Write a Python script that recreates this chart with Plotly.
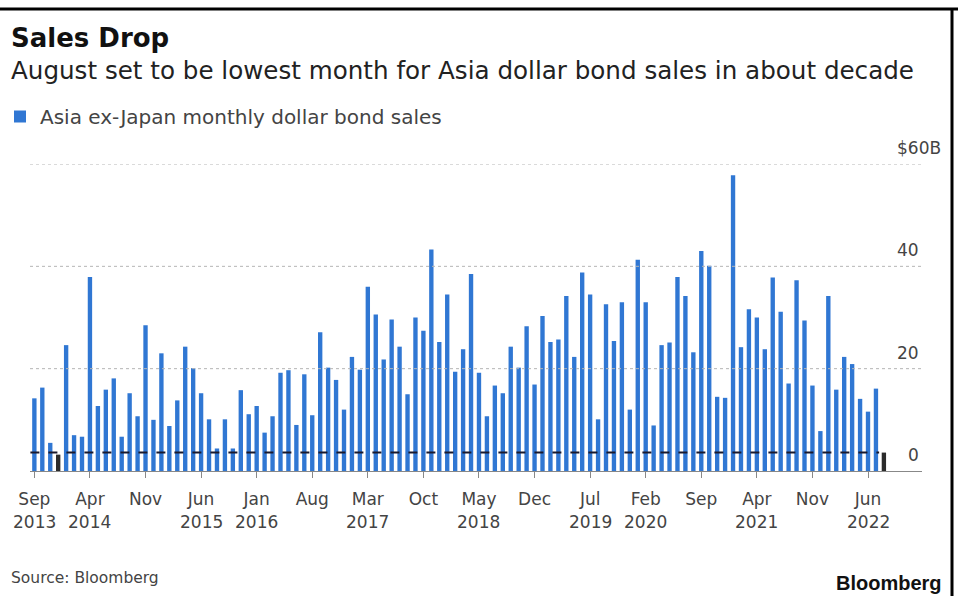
import pandas as pd
import plotly.graph_objects as go

# Monthly Asia ex-Japan dollar bond sales, $ billions (Sep 2013 - Aug 2022)
start_month = "2013-09-01"
sales = [
    14.2, 16.3, 5.5, 3.2, 24.6, 7.0, 6.7, 37.9, 12.7, 15.9, 18.1, 6.7,
    15.2, 10.7, 28.5, 10.0, 23.0, 8.8, 13.8, 24.3, 20.1, 15.2, 10.1, 4.4,
    10.1, 4.4, 15.8, 11.1, 12.7, 7.5, 10.7, 19.2, 19.7, 9.0, 18.9, 10.9,
    27.1, 20.2, 17.8, 12.0, 22.3, 19.8, 36.0, 30.6, 21.8, 29.6, 24.3, 15.0,
    30.0, 27.4, 43.3, 25.2, 34.5, 19.4, 23.8, 38.5, 19.2, 10.7, 16.7, 15.2,
    24.3, 20.2, 28.3, 16.9, 30.3, 25.2, 25.7, 34.2, 22.3, 38.8, 34.5, 10.1,
    32.6, 25.4, 33.0, 12.0, 41.3, 33.0, 8.9, 24.6, 25.1, 37.9, 34.2, 23.2,
    43.0, 40.1, 14.5, 14.3, 57.8, 24.2, 31.6, 30.0, 23.8, 37.8, 31.1, 17.1,
    37.3, 29.4, 16.7, 7.8, 34.2, 15.9, 22.3, 20.9, 14.1, 11.6, 16.1, 3.6,
]
highlight_months = ["2013-12", "2022-08"]

y_ticks = [0, 20, 40, 60]
y_tick_text = ["0", "20", "40", "$60B"]
x_tick_months = ["2013-09", "2014-04", "2014-11", "2015-06", "2016-01", "2016-08",
                 "2017-03", "2017-10", "2018-05", "2018-12", "2019-07", "2020-02",
                 "2020-09", "2021-04", "2021-11", "2022-06"]
x_tick_text = ["Sep", "Apr", "Nov", "Jun", "Jan", "Aug", "Mar", "Oct",
               "May", "Dec", "Jul", "Feb", "Sep", "Apr", "Nov", "Jun"]
x_tick_years = ["2013", "2014", "", "2015", "2016", "", "2017", "",
                "2018", "", "2019", "2020", "", "2021", "", "2022"]

months = pd.date_range(start_month, periods=len(sales), freq="MS").strftime("%Y-%m").tolist()

BLUE = "#3077d3"
DARK = "#2b2b2b"
bar_colors = [DARK if m in highlight_months else BLUE for m in months]
aug_level = sales[-1]

W, H = 958, 596
L, R, T, B = 30, 36, 164, 125
plot_w, plot_h = W - L - R, H - T - B


def px_x(px):
    return (px - L) / plot_w


def px_y(py):
    return (H - B - py) / plot_h


FONT = "DejaVu Sans"
TXT = "#444"

fig = go.Figure()
fig.add_trace(go.Bar(
    x=months, y=sales,
    marker=dict(color=bar_colors, line=dict(width=0)),
    name="Asia ex-Japan monthly dollar bond sales",
    showlegend=True,
))

shapes = []
# dotted gridlines
for v in y_ticks[1:]:
    shapes.append(dict(type="line", xref="paper", yref="y", x0=0, x1=1, y0=v, y1=v,
                       line=dict(color="#b5b5b5", width=1, dash="dot")))
# August level reference
shapes.append(dict(type="line", xref="x", yref="y", x0=-0.5, x1=len(sales) - 1.6,
                   y0=aug_level, y1=aug_level,
                   line=dict(color="#1a1a2e", width=2, dash="dash")))
# frame lines
shapes.append(dict(type="line", xref="paper", yref="paper", x0=px_x(0), x1=px_x(W),
                   y0=px_y(9), y1=px_y(9), line=dict(color="black", width=3)))
shapes.append(dict(type="line", xref="paper", yref="paper", x0=px_x(952), x1=px_x(952),
                   y0=px_y(8), y1=px_y(H), line=dict(color="black", width=3)))

annotations = [
    dict(text="<b>Sales Drop</b>", xref="paper", yref="paper", x=px_x(9), y=px_y(38),
         xanchor="left", yanchor="middle", showarrow=False,
         font=dict(family=FONT, size=26, color="#111")),
    dict(text="August set to be lowest month for Asia dollar bond sales in about decade",
         xref="paper", yref="paper", x=px_x(9), y=px_y(70),
         xanchor="left", yanchor="middle", showarrow=False,
         font=dict(family=FONT, size=24.6, color="#222")),
    dict(text="Source: Bloomberg", xref="paper", yref="paper", x=px_x(9), y=px_y(578),
         xanchor="left", yanchor="middle", showarrow=False,
         font=dict(family=FONT, size=15.5, color=TXT)),
    dict(text="<b>Bloomberg</b>", xref="paper", yref="paper", x=px_x(944), y=px_y(583),
         xanchor="right", yanchor="middle", showarrow=False,
         font=dict(family="Liberation Sans", size=20, color="#111")),
]
for v, t in zip(y_ticks, y_tick_text):
    annotations.append(dict(text=t, xref="paper", yref="y", x=1, y=v,
                            xanchor="right", yanchor="bottom",
                            xshift=21 if t.startswith("$") else -1, yshift=4,
                            showarrow=False,
                            font=dict(family=FONT, size=17, color=TXT)))
for m, yr in zip(x_tick_months, x_tick_years):
    if yr:
        annotations.append(dict(text=yr, xref="x", yref="paper", x=m, y=px_y(522),
                                xanchor="center", yanchor="middle", showarrow=False,
                                font=dict(family=FONT, size=17, color=TXT)))

fig.update_layout(
    width=W, height=H,
    margin=dict(l=L, r=R, t=T, b=B, autoexpand=False),
    paper_bgcolor="white", plot_bgcolor="white",
    bargap=0.45,
    shapes=shapes,
    annotations=annotations,
    showlegend=True,
    legend=dict(x=px_x(0), y=px_y(97), xanchor="left", yanchor="top",
                orientation="h", bgcolor="rgba(0,0,0,0)",
                font=dict(family=FONT, size=20, color=TXT),
                itemwidth=30),
    xaxis=dict(type="category", range=[-0.55, len(sales) + 3.8],
               tickmode="array", tickvals=x_tick_months, ticktext=x_tick_text,
               ticks="outside", ticklen=6, tickcolor="#888", tickwidth=1,
               ticklabelstandoff=7,
               showline=True, linecolor="#888", linewidth=1,
               showgrid=False, zeroline=False,
               tickfont=dict(family=FONT, size=17, color=TXT)),
    yaxis=dict(range=[0, 60], showgrid=False, zeroline=False,
               showticklabels=False, ticks=""),
)

fig.write_html("out.html")
